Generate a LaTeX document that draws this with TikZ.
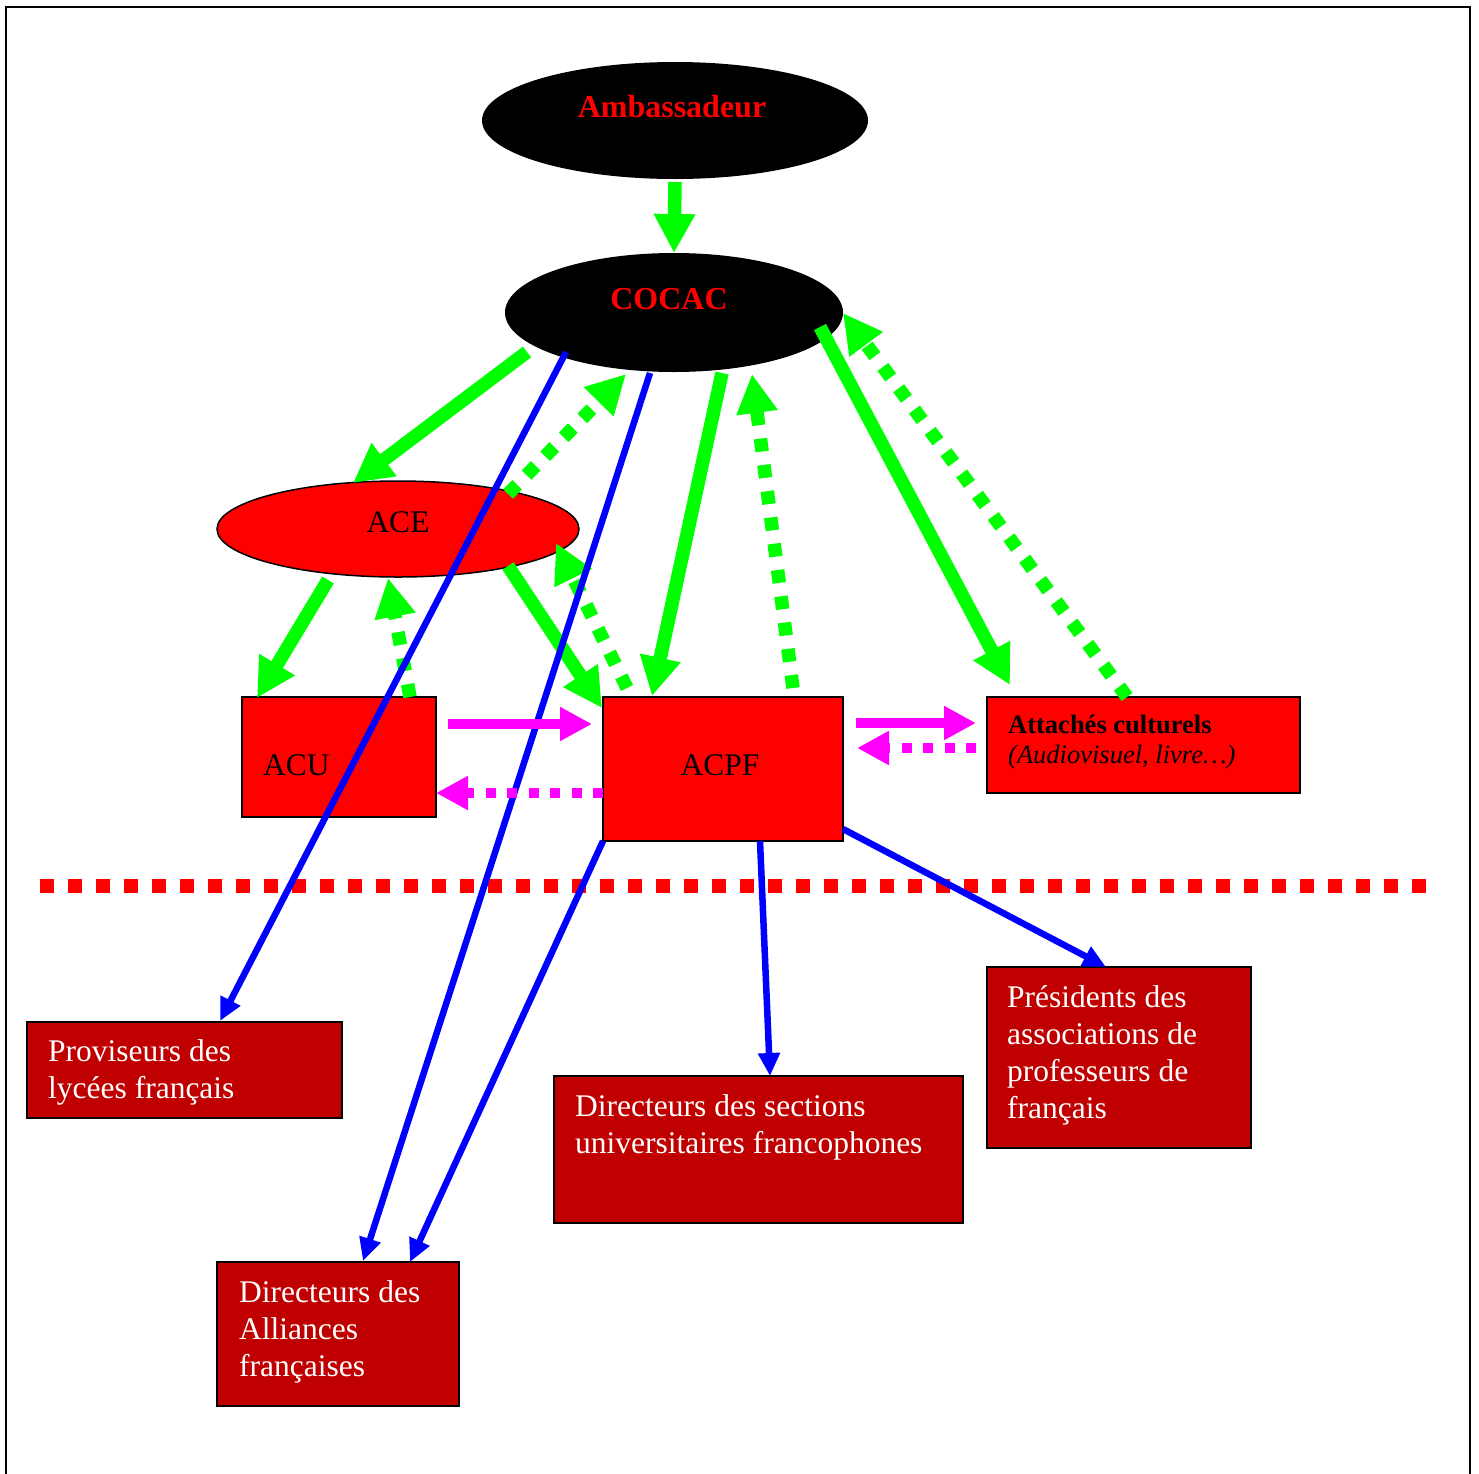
\documentclass[tikz,border=0pt]{standalone}
\usepackage{fontspec}
\setmainfont{Liberation Serif}
\usetikzlibrary{arrows.meta,shapes.geometric,calc}
\definecolor{gr}{RGB}{0,255,0}
\definecolor{mg}{RGB}{255,0,255}
\definecolor{bl}{RGB}{0,0,255}
\definecolor{rd}{RGB}{255,0,0}
\definecolor{dr}{RGB}{192,0,0}
\begin{document}
\begin{tikzpicture}[x=1pt,y=-1pt,
  oval/.style={ellipse, inner sep=0pt, outer sep=0pt},
  redbox/.style={rectangle, fill=rd, draw=black, line width=2pt, inner sep=0pt, outer sep=0pt},
  darkbox/.style={rectangle, fill=dr, draw=black, line width=2pt, inner sep=0pt, outer sep=0pt},
  bigtitle/.style={font=\bfseries\fontsize{32}{38}\selectfont, text=rd, inner sep=0pt, anchor=base},
  plain/.style={font=\fontsize{31.5}{37}\selectfont, inner sep=0pt},
  whitetext/.style={font=\fontsize{31.5}{37}\selectfont, text=white, inner sep=0pt, anchor=north west, align=left},
  gsolid/.style={draw=gr, line width=13.5pt, -{Triangle[length=39pt,width=39pt]}},
  gdot/.style={gsolid, dash pattern=on 13pt off 13.5pt},
  msolid/.style={draw=mg, line width=10pt, -{Triangle[length=32pt,width=32pt]}},
  mdot/.style={msolid, dash pattern=on 10pt off 11.5pt},
  barrow/.style={draw=bl, line width=6.5pt, -{Triangle[length=23pt,width=21pt]}}
]
\useasboundingbox (0,0) rectangle (1479,1473);
\fill[white] (0,0) rectangle (1479,1473);
\draw[line width=2pt] (5.5,1480) -- (5.5,6.5) -- (1469.5,6.5) -- (1469.5,1480);

% shapes
\node[oval, fill=black, minimum width=386pt, minimum height=117pt] (amb) at (675,120.5) {};
\node[oval, fill=black, minimum width=338pt, minimum height=119pt] (cocac) at (674,312.5) {};
\node[oval, fill=rd, draw=black, line width=1.5pt, minimum width=362pt, minimum height=96pt] (ace) at (398,529) {};
\node[redbox, minimum width=194pt, minimum height=120pt] (acu) at (339,757) {};
\node[redbox, minimum width=240pt, minimum height=144pt] (acpf) at (723,769) {};
\node[redbox, minimum width=313pt, minimum height=96pt] (att) at (1143.5,745) {};
\node[darkbox, minimum width=315pt, minimum height=96pt] (prov) at (184.5,1070) {};
\node[darkbox, minimum width=242pt, minimum height=144pt] (alli) at (338,1334) {};
\node[darkbox, minimum width=409pt, minimum height=147pt] (sect) at (758.5,1149.5) {};
\node[darkbox, minimum width=264pt, minimum height=181pt] (pres) at (1119,1057.5) {};

% texts
\node[bigtitle] (ambt) at (672,117) {Ambassadeur};
\node[bigtitle] (cocact) at (669,309) {COCAC};
\node[plain, anchor=base] (acet) at (398,532) {ACE};
\node[plain, anchor=base west] (acut) at (263,775) {ACU};
\node[plain, anchor=base] (acpft) at (720,775) {ACPF};
\node[font=\fontsize{26.5}{30}\selectfont, anchor=north west, align=left, inner sep=0pt] (attt) at (1008,712)
  {\strut\textbf{Attachés culturels}\\\textit{(Audiovisuel, livre…)}};
\node[whitetext] (provt) at (48,1035.1) {\strut Proviseurs des\\lycées français};
\node[whitetext] (allit) at (239,1276.1) {\strut Directeurs des\\Alliances\\françaises};
\node[whitetext] (sectt) at (575,1090.1) {\strut Directeurs des sections\\universitaires francophones};
\node[whitetext] (prest) at (1007,981.1) {\strut Présidents des\\associations de\\professeurs de\\français};

% divider
\coordinate (divL) at (40,886);
\coordinate (divR) at (1426,886);
\draw[rd, line width=13.5pt, dash pattern=on 14pt off 14pt] (divL) -- (divR);

% green connectors
\draw[gsolid] ($(amb.south)+(0,3)$) -- (cocac.north);
\draw[gsolid] ($(cocac.center)+(-147,39.5)$) -- ($(ace.center)+(-45,-46)$);
\draw[gdot] ($(ace.center)+(110,-35)$) -- ($(cocac.center)+(-48,61.5)$);
\draw[gsolid] ($(cocac.center)+(48,60.5)$) -- ($(acpf.north)+(-71,-1)$);
\draw[gdot] ($(acpf.north)+(70,-9)$) -- ($(cocac.center)+(78,61.5)$);
\draw[gsolid] ($(cocac.center)+(146,14.5)$) -- ($(att.north)+(-133.5,-12)$);
\draw[gdot] ($(att.north)+(-16.5,0)$) -- ($(cocac.east)+(0,0.5)$);
\draw[gsolid] ($(ace.center)+(-70,51)$) -- ($(acu.north west)+(15,1)$);
\draw[gdot] ($(acu.north)+(71,0)$) -- ($(ace.south)+(-10,1)$);
\draw[gsolid] ($(ace.center)+(110,37)$) -- ($(acpf.north west)+(-1,11)$);
\draw[gdot] ($(acpf.north west)+(24,-9)$) -- ($(ace.center)+(158,14)$);

% blue connectors
\draw[barrow] ($(cocac.center)+(-108,39.5)$) -- ($(prov.north)+(35.5,-1)$);
\draw[barrow] ($(cocac.center)+(-24,60.5)$) -- ($(alli.north)+(25,-1)$);
\draw[barrow] (acpf.south west) -- ($(alli.north)+(72,0)$);
\draw[barrow] ($(acpf.south)+(37,0)$) -- ($(sect.north)+(11.5,0)$);
\draw[barrow] ($(acpf.south east)+(0,-12)$) -- ($(pres.north)+(-13,0)$);

% magenta connectors
\draw[msolid] ($(acu.east)+(12,-33)$) -- ($(acpf.west)+(-11,-45)$);
\draw[mdot] ($(acpf.west)+(0,24)$) -- ($(acu.east)+(0,36)$);
\draw[msolid] ($(acpf.east)+(13,-46)$) -- ($(att.west)+(-11,-22)$);
\draw[mdot] ($(att.west)+(-11,3)$) -- ($(acpf.east)+(14,-21)$);
\end{tikzpicture}
\end{document}
